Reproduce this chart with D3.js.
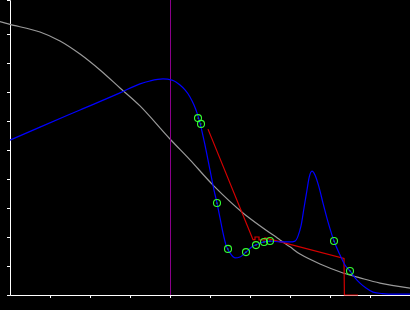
<!DOCTYPE html>
<html>
<head>
  <meta charset="utf-8">
  <title>Filter plot</title>
  <style>
    body { margin: 0; background: #000; }
    svg { display: block; background: #000; }
  </style>
</head>
<body>
  <svg id="chart"></svg>

  <script src="https://d3js.org/d3.v7.min.js"></script>
  <script>
    // values
    const grayX = [-0.25, 0, 0.75, 1.25, 1.75, 2.25, 2.75, 3.25, 4.0, 4.5, 5.075, 5.825, 6.75, 7.0, 7.25, 7.75, 8.325, 8.75, 9.25, 10];
    const grayY = [0.943, 0.933, 0.907, 0.876, 0.831, 0.776, 0.714, 0.652, 0.538, 0.466, 0.379, 0.283, 0.190, 0.166, 0.141, 0.107, 0.076, 0.059, 0.041, 0.024];

    const blueX = [0, 0.75, 1.75, 2.75, 3.25, 3.5, 3.825, 4.05, 4.25, 4.375, 4.5, 4.6, 4.675, 4.75, 4.875, 5.0, 5.1, 5.175, 5.25, 5.325, 5.4, 5.5, 5.625, 5.75, 5.9, 6.05, 6.2, 6.35, 6.5, 6.75, 7.0, 7.125, 7.2, 7.275, 7.35, 7.425, 7.475, 7.55, 7.625, 7.725, 7.825, 7.95, 8.1, 8.25, 8.375, 8.5, 8.625, 8.75, 8.9, 9.075, 9.3, 9.625, 10];
    const blueY = [0.534, 0.579, 0.638, 0.697, 0.728, 0.738, 0.745, 0.741, 0.724, 0.707, 0.683, 0.655, 0.628, 0.593, 0.517, 0.431, 0.362, 0.317, 0.266, 0.214, 0.172, 0.145, 0.128, 0.131, 0.148, 0.166, 0.176, 0.183, 0.186, 0.183, 0.183, 0.186, 0.203, 0.238, 0.300, 0.362, 0.403, 0.427, 0.414, 0.372, 0.317, 0.252, 0.186, 0.138, 0.103, 0.083, 0.059, 0.041, 0.024, 0.010, 0.005, 0.003, 0.003];

    const redX = [4.95, 6.075, 6.125, 6.125, 6.225, 6.225, 6.375, 6.375, 8.35, 8.36, 8.7];
    const redY = [0.572, 0.191, 0.191, 0.200, 0.200, 0.190, 0.190, 0.197, 0.126, 0, 0];

    const markX = [4.7, 4.775, 5.175, 5.45, 5.9, 6.15, 6.35, 6.5, 8.1, 8.5];
    const markY = [0.610, 0.590, 0.317, 0.159, 0.148, 0.172, 0.183, 0.186, 0.186, 0.083];

    const cursorX = 4;
    const xTicks = [1, 2, 3, 4, 5, 6, 7, 8, 9];
    const yTicks = [0.1, 0.2, 0.3, 0.4, 0.5, 0.6, 0.7, 0.8, 0.9];

    const width = 410;
    const height = 310;

    const svg = d3.select("#chart")
      .attr("width", width)
      .attr("height", height);

    const x = d3.scaleLinear().domain([0, 10]).range([10, 410]);
    const y = d3.scaleLinear().domain([0, 295 / 290]).range([295, 0]);

    // axes
    svg.append("g")
      .attr("transform", "translate(10,0)")
      .call(d3.axisLeft(y).tickValues(yTicks).tickSize(3).tickFormat(""))
      .call(g => g.selectAll("path, line").attr("stroke", "#fff"));

    svg.append("g")
      .attr("transform", "translate(0,295)")
      .call(d3.axisBottom(x).tickValues(xTicks).tickSize(3).tickSizeOuter(0).tickFormat(""))
      .call(g => g.selectAll("path, line").attr("stroke", "#fff"));

    const line = d3.line()
      .x(d => x(d[0]))
      .y(d => y(d[1]));

    // gray curve
    svg.append("path")
      .datum(d3.zip(grayX, grayY))
      .attr("fill", "none")
      .attr("stroke", "#9a9a9a")
      .attr("stroke-width", 1.2)
      .attr("d", line.curve(d3.curveCatmullRom));

    // purple cursor
    svg.append("line")
      .attr("x1", x(cursorX) + 0.5).attr("x2", x(cursorX) + 0.5)
      .attr("y1", 0).attr("y2", 295)
      .attr("stroke", "#8a008a")
      .attr("stroke-width", 1);

    // red stepped line
    svg.append("path")
      .datum(d3.zip(redX, redY))
      .attr("fill", "none")
      .attr("stroke", "#d40000")
      .attr("stroke-width", 1.2)
      .attr("d", line.curve(d3.curveLinear));

    // blue curve
    svg.append("path")
      .datum(d3.zip(blueX, blueY))
      .attr("fill", "none")
      .attr("stroke", "#0000ff")
      .attr("stroke-width", 1.2)
      .attr("d", line.curve(d3.curveMonotoneX));

    // green markers
    const marks = svg.append("g")
      .selectAll("g")
      .data(d3.zip(markX, markY))
      .join("g")
      .attr("transform", d => `translate(${x(d[0])},${y(d[1])})`);

    marks.append("circle")
      .attr("r", 3.5)
      .attr("fill", "none")
      .attr("stroke", "#33ff33")
      .attr("stroke-width", 1.1);

    marks.append("circle")
      .attr("r", 0.6)
      .attr("fill", "#33ff33");
  </script>
</body>
</html>
